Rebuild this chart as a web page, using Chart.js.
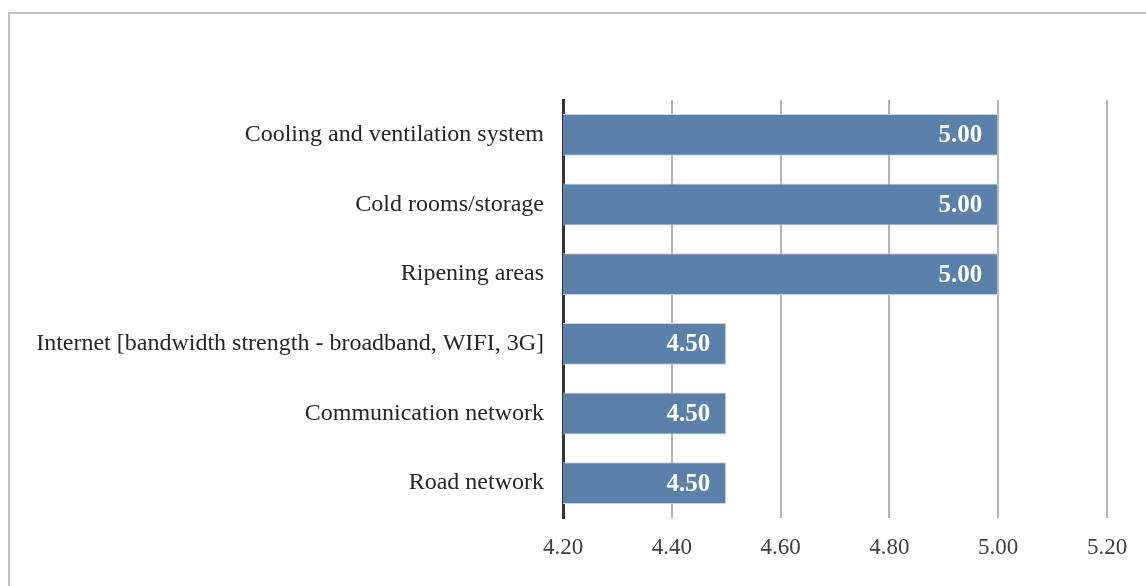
<!DOCTYPE html>
<html>
<head>
<meta charset="utf-8">
<script src="https://cdn.jsdelivr.net/npm/chart.js@4.4.0/dist/chart.umd.min.js"></script>
<style>
  html, body { margin: 0; padding: 0; background: #fff; }
  #wrap { position: relative; width: 1146px; height: 586px; overflow: hidden; }
  #frame { position: absolute; left: 8px; top: 12px; width: 1200px; height: 700px; border: 2px solid #c2c2c2; }
  canvas { position: absolute; left: 0; top: 0; }
</style>
</head>
<body>
<div id="wrap">
  <div id="frame"></div>
  <canvas id="chart" width="1146" height="586"></canvas>
</div>
<script>
const categories = [
    "Cooling and ventilation system",
    "Cold rooms/storage",
    "Ripening areas",
    "Internet [bandwidth strength - broadband, WIFI, 3G]",
    "Communication network",
    "Road network"
];
const scores = [5.00, 5.00, 5.00, 4.50, 4.50, 4.50];
const axisMin = 4.2;
const axisMax = 5.2;
const axisStep = 0.2;

const serif = "'Liberation Serif', 'Times New Roman', serif";

// etiquetas dentro das barras
const barLabels = {
    id: "barLabels",
    afterDatasetsDraw(chart) {
        const ctx = chart.ctx;
        const meta = chart.getDatasetMeta(0);
        ctx.save();
        ctx.font = "bold 25px " + serif;
        ctx.fillStyle = "#ffffff";
        ctx.textAlign = "right";
        ctx.textBaseline = "middle";
        meta.data.forEach((bar, i) => {
            ctx.fillText(scores[i].toFixed(2), bar.x - 16, bar.y + 1);
        });
        ctx.restore();
    }
};

new Chart(document.getElementById("chart"), {
    type: "bar",
    data: {
        labels: categories,
        datasets: [{
            data: scores,
            backgroundColor: "#5b80aa",
            borderColor: "#c9d2dc",
            borderWidth: 1,
            borderSkipped: false,
            barPercentage: 0.6,
            categoryPercentage: 1
        }]
    },
    options: {
        indexAxis: "y",
        responsive: false,
        animation: false,
        layout: { padding: { top: 100, right: 39, bottom: 0, left: 0 } },
        plugins: { legend: { display: false }, tooltip: { enabled: false } },
        scales: {
            x: {
                min: axisMin,
                max: axisMax,
                afterFit(scale) { scale.height = 68; },
                ticks: {
                    stepSize: axisStep,
                    color: "#404040",
                    font: { family: serif, size: 23 },
                    padding: 16,
                    callback: v => Number(v).toFixed(2)
                },
                grid: { color: "#b4b4b4", lineWidth: 2, drawTicks: false },
                border: { display: false }
            },
            y: {
                afterFit(scale) { scale.width = 563; },
                ticks: {
                    color: "#262626",
                    font: { family: serif, size: 24 },
                    padding: 19
                },
                grid: { display: false, drawTicks: false },
                border: { display: true, color: "#333333", width: 3 }
            }
        }
    },
    plugins: [barLabels]
});
</script>
</body>
</html>
